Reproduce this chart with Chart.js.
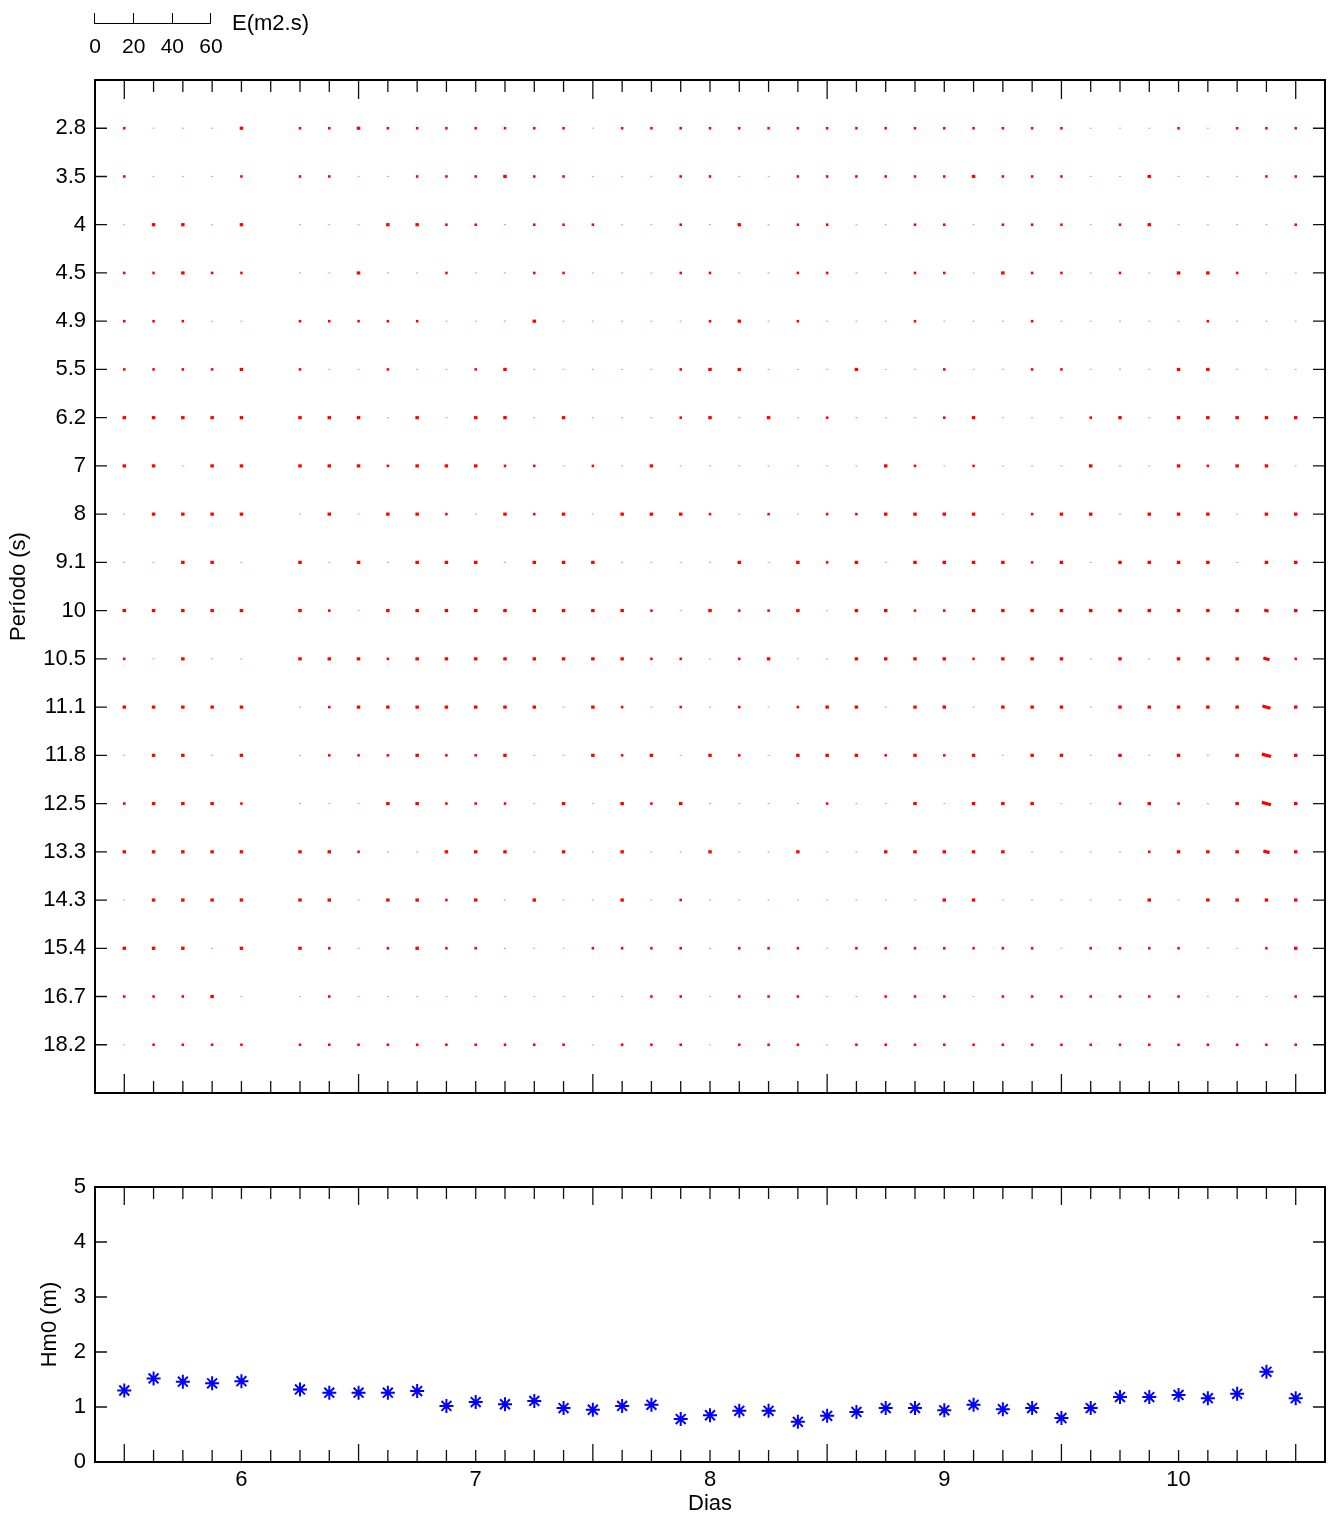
<!DOCTYPE html>
<html lang="pt">
<head>
<meta charset="utf-8">
<title>Espectro e Hm0</title>
<script src="https://cdn.jsdelivr.net/npm/chart.js@4.4.1/dist/chart.umd.min.js"></script>
<style>
  body { margin: 0; background: #fff; }
  #pagina { position: relative; width: 1338px; height: 1517px; font-family: "Liberation Sans", Arial, sans-serif; color: #000; }
  #painelEspectro { position: absolute; left: 0; top: 0; }
  #painelHm0 { position: absolute; left: 0; top: 1140px; }
  #legenda { position: absolute; left: 0; top: 0; width: 400px; height: 60px; }
  #legenda div, #legenda span { position: absolute; }
</style>
</head>
<body>
<div id="pagina">
  <canvas id="painelEspectro" width="1338" height="1130"></canvas>
  <canvas id="painelHm0" width="1338" height="377"></canvas>
  <div id="legenda"></div>
</div>
<script>
// tempos (dias) - um registo a cada 3 horas, falta o de 6.125
const tempos = [5.5, 5.625, 5.75, 5.875, 6, 6.125, 6.25, 6.375, 6.5, 6.625, 6.75, 6.875, 7, 7.125,
  7.25, 7.375, 7.5, 7.625, 7.75, 7.875, 8, 8.125, 8.25, 8.375, 8.5, 8.625, 8.75, 8.875, 9, 9.125,
  9.25, 9.375, 9.5, 9.625, 9.75, 9.875, 10, 10.125, 10.25, 10.375, 10.5];

// periodos (s) - linhas do painel de cima
const periodos = [2.8, 3.5, 4, 4.5, 4.9, 5.5, 6.2, 7, 8, 9.1, 10, 10.5, 11.1, 11.8, 12.5, 13.3, 14.3, 15.4, 16.7, 18.2];

// energia E(m2.s) por periodo (linha) e tempo (coluna)
const energia = [
  [1, .3, .3, .3, 1.5, null, 1, 1, 1.5, 1, 1, 1, 1, 1, 1, 1, .3, 1, 1, 1, 1, 1, 1, 1, 1, 1, 1, 1, 1, 1, 1, 1, 1, .3, .3, .3, 1, .3, 1, 1, 1],
  [1, .3, .3, .3, 1, null, 1, 1, .3, .3, 1, 1, 1, 1.5, 1, 1, .3, .3, .3, 1, 1, .3, .3, 1, 1, 1, 1, 1, 1, 1.5, 1, 1, 1, .3, .3, 1.5, .3, .3, .3, 1, 1],
  [.3, 1.5, 1.5, .3, 1.5, null, .3, .3, .3, 1.5, 1.5, 1, 1, .3, 1, 1, 1, .3, .3, 1, .3, 1.5, .3, 1, 1, .3, .3, 1, 1, .3, 1, 1, 1, .3, 1, 1.5, .3, .3, .3, .3, 1],
  [1, 1, 1.5, 1, 1, null, .3, .3, 1.5, .3, .3, 1, .3, .3, 1, 1, .3, .3, .3, 1, 1, .3, .3, 1, 1, .3, .3, 1, 1, .3, 1.5, 1, 1, .3, 1, .3, 1.5, 1.5, 1, .3, .3],
  [1, 1, 1, .3, .3, null, 1, 1, 1, 1, 1, .3, .3, .3, 1.5, .3, .3, .3, .3, .3, 1, 1.5, .3, 1, .3, .3, .3, 1, .3, .3, .3, 1, .3, .3, .3, .3, .3, 1, .3, .3, .3],
  [1, 1, 1, 1, 1.5, null, 1, .3, .3, 1, .3, .3, 1, 1.5, .3, .3, .3, .3, .3, 1, 1.5, 1.5, .3, .3, .3, 1.5, .3, .3, 1, .3, .3, 1, 1, .3, .3, .3, 1.5, 1.5, .3, .3, .3],
  [1.5, 1.5, 1.5, 1.5, 1.5, null, 1.5, 1.5, 1.5, .3, 1.5, .3, 1.5, 1.5, .3, 1.5, .3, .3, .3, 1, 1.5, .3, 1.5, .3, 1, .3, .3, .3, 1, 1.5, .3, .3, .3, 1, 1.5, .3, 1.5, 1.5, 1.5, 1.5, 1.5],
  [1.5, 1.5, .3, 1.5, 1.5, null, 1.5, 1.5, 1.5, 1, 1.5, 1.5, 1.5, 1, 1, .3, 1, .3, 1.5, .3, .3, .3, .3, .3, .3, .3, 1.5, 1, .3, 1, .3, .3, .3, 1.5, .3, .3, 1.5, 1, 1.5, 1.5, .3],
  [.3, 1.5, 1.5, 1.5, 1.5, null, .3, 1.5, .3, 1.5, 1.5, 1, .3, 1.5, 1, 1.5, .3, 1.5, 1.5, 1.5, 1, .3, 1, .3, 1, 1, 1.5, 1.5, 1.5, 1.5, .3, 1, 1.5, 1.5, .3, 1.5, 1.5, 1.5, .3, 1.5, 1.5],
  [.3, .3, 1.5, 1.5, .3, null, 1.5, .3, 1.5, .3, 1.5, 1.5, 1.5, .3, 1.5, 1.5, 1.5, .3, .3, .3, .3, 1.5, .3, 1.5, 1, 1.5, .3, 1.5, 1.5, 1.5, 1.5, 1, 1.5, .3, 1.5, 1.5, 1.5, 1.5, .3, 1.5, 1.5],
  [1.5, 1.5, 1.5, 1.5, 1.5, null, 1.5, 1, .3, 1.5, 1.5, 1.5, 1.5, 1.5, 1.5, 1.5, 1.5, 1.5, 1, .3, 1.5, 1, 1, 1.5, .3, 1.5, 1.5, 1, 1, 1.5, 1.5, 1.5, 1.5, 1.5, 1.5, 1.5, 1.5, 1.5, 1.5, 2, 1.5],
  [1, .3, 1.5, .3, .3, null, 1.5, 1.5, 1.5, 1, 1.5, 1.5, 1.5, 1.5, 1.5, 1.5, 1.5, 1.5, 1, 1, .3, 1, 1.5, .3, .3, 1.5, 1.5, 1.5, 1.5, 1, 1.5, 1.5, 1.5, .3, 1.5, .3, 1.5, 1.5, 1.5, 3, 1],
  [1.5, 1.5, 1.5, 1.5, 1.5, null, .3, 1, 1.5, 1.5, 1.5, 1.5, 1.5, 1.5, 1.5, .3, 1.5, 1, .3, 1, .3, 1, .3, 1, 1.5, 1.5, .3, 1.5, 1.5, .3, 1.5, 1.5, 1.5, .3, 1.5, 1.5, 1.5, 1.5, 1.5, 4, 1.5],
  [.3, 1.5, 1.5, .3, 1.5, null, .3, 1, 1, 1, 1.5, 1, 1, 1.5, .3, .3, 1.5, 1, 1.5, .3, 1.5, 1, .3, 1.5, 1.5, 1.5, 1, 1.5, 1, 1.5, .3, 1.5, 1.5, .3, 1.5, .3, 1.5, .3, 1.5, 4.6, 1.5],
  [1, 1.5, 1.5, 1.5, 1, null, .3, .3, .3, 1.5, 1.5, 1, 1, 1, .3, 1.5, .3, 1.5, 1, 1.5, .3, .3, .3, .3, 1, .3, .3, 1.5, .3, 1.5, 1.5, 1.5, .3, .3, 1, 1.5, 1, .3, 1.5, 4.6, 1.5],
  [1.5, 1.5, 1.5, 1.5, 1.5, null, 1.5, 1.5, 1, .3, .3, 1.5, 1.5, 1.5, .3, 1.5, .3, 1.5, .3, .3, 1.5, .3, .3, 1.5, .3, .3, 1.5, 1.5, 1.5, 1.5, 1.5, .3, .3, .3, .3, 1, 1.5, 1.5, 1.5, 3, 1.5],
  [.3, 1.5, 1.5, 1.5, 1.5, null, 1.5, 1.5, .3, 1.5, 1.5, 1, 1.5, .3, 1.5, .3, .3, 1.5, .3, 1, .3, .3, .3, .3, .3, .3, .3, .3, 1.5, 1.5, .3, .3, .3, .3, .3, 1.5, .3, 1.5, 1.5, 1.5, 1.5],
  [1.5, 1.5, 1.5, .3, 1.5, null, 1.5, 1, .3, 1, 1.5, 1, 1, .3, .3, .3, 1, 1, 1, 1, .3, 1, 1, 1, .3, 1, 1, 1, 1, 1, 1, 1, .3, 1, 1, 1, 1, .3, .3, 1, 1.5],
  [1, 1, 1, 1.5, .3, null, .3, 1, .3, .3, .3, .3, .3, .3, .3, .3, .3, .3, 1, 1, .3, 1, 1, 1, .3, .3, 1, 1, 1, .3, 1, 1, 1, 1, 1, 1, 1, .3, .3, .3, 1],
  [.3, 1, 1, 1, 1, null, 1, 1, 1, 1, 1, 1, 1, 1, 1, 1, .3, 1, 1, 1, .3, 1, 1, 1, .3, 1, 1, 1, 1, 1, 1, 1, 1, 1, 1, 1, 1, 1, 1, 1, 1]
];

// altura significativa Hm0 (m)
const hm0 = [1.30, 1.52, 1.46, 1.43, 1.47, null, 1.32, 1.26, 1.26, 1.26, 1.29, 1.02, 1.09, 1.05, 1.11,
  0.98, 0.95, 1.02, 1.04, 0.78, 0.85, 0.93, 0.93, 0.73, 0.84, 0.91, 0.98, 0.98, 0.94, 1.04, 0.96,
  0.98, 0.80, 0.98, 1.18, 1.18, 1.22, 1.16, 1.24, 1.64, 1.16];

const marcasLongas = [5.5, 6.5, 7.5, 8.5, 9.5, 10.5];
const escalaLegenda = [0, 20, 40, 60];
const pxPorUnidade = 116 / 60; // comprimento da barra de escala

Chart.defaults.font.family = '"Liberation Sans", Arial, sans-serif';
Chart.defaults.font.size = 22;
Chart.defaults.color = '#000';

// --- barra de escala E(m2.s) ---
const legenda = document.getElementById('legenda');
const x0 = 95;
const barra = document.createElement('div');
barra.style.cssText = `left:${x0}px;top:23px;width:${60 * pxPorUnidade}px;border-top:1.3px solid #000;`;
legenda.appendChild(barra);
escalaLegenda.forEach(v => {
  const px = x0 + v * pxPorUnidade;
  const traco = document.createElement('div');
  traco.style.cssText = `left:${px - 0.6}px;top:13px;height:11px;border-left:1.3px solid #000;`;
  legenda.appendChild(traco);
  const rot = document.createElement('span');
  rot.textContent = v;
  rot.style.cssText = `left:${px - 30}px;width:60px;top:35px;text-align:center;font-size:21px;line-height:1;`;
  legenda.appendChild(rot);
});
const unidade = document.createElement('span');
unidade.textContent = 'E(m2.s)';
unidade.style.cssText = 'left:232px;top:12px;font-size:22px;line-height:1;';
legenda.appendChild(unidade);

// --- moldura e marcas para dentro (estilo matlab) ---
const molduraPlugin = {
    id: 'moldura',
    afterDatasetsDraw(chart, args, opts) {
        const { ctx, chartArea: a, scales } = chart;
        ctx.save();
        ctx.strokeStyle = '#111';
        ctx.lineWidth = 1.3;
        ctx.beginPath();
        scales.x.ticks.forEach(t => {
            const px = scales.x.getPixelForValue(t.value);
            const len = marcasLongas.includes(t.value) ? opts.longo : opts.curto;
            ctx.moveTo(px, a.bottom); ctx.lineTo(px, a.bottom - len);
            ctx.moveTo(px, a.top); ctx.lineTo(px, a.top + len);
        });
        scales.y.ticks.forEach(t => {
            const py = scales.y.getPixelForValue(t.value);
            ctx.moveTo(a.left, py); ctx.lineTo(a.left + opts.curto, py);
            ctx.moveTo(a.right, py); ctx.lineTo(a.right - opts.curto, py);
        });
        ctx.stroke();
        ctx.strokeStyle = '#000';
        ctx.lineWidth = 2;
        ctx.strokeRect(a.left, a.top, a.right - a.left, a.bottom - a.top);
        ctx.restore();
    }
};

// --- pontos ---
const pontosEspectro = [];
energia.forEach((linha, k) => {
    linha.forEach((e, i) => {
        if (e === null) return;
        pontosEspectro.push({ x: tempos[i], y: k + 1, e: e });
    });
});
const pontosHm0 = tempos.map((t, i) => ({ x: t, y: hm0[i] })).filter(p => p.y !== null);

const eixoTempo = {
    type: 'linear', min: 5.375, max: 10.625,
    afterBuildTicks: s => { s.ticks = tempos.map(v => ({ value: v })); },
    grid: { display: false, drawTicks: false },
    border: { display: false }
};

// painel de cima - espectro
new Chart(document.getElementById('painelEspectro'), {
    type: 'scatter',
    data: {
        datasets: [{
            data: pontosEspectro,
            pointStyle: 'line',
            pointRadius: c => c.raw.e < 0.5 ? 1 : c.raw.e * pxPorUnidade / 2 + 0.3,
            pointBorderWidth: c => c.raw.e < 0.5 ? 1.2 : (c.raw.e < 1.2 ? 2.6 : 3.2),
            pointBorderColor: c => c.raw.e < 0.5 ? 'rgba(255,0,0,0.4)' : '#ff0000',
            pointBackgroundColor: '#ff0000',
            pointRotation: c => c.raw.e >= 2 ? 15 : 0
        }]
    },
    options: {
        responsive: false,
        animation: false,
        events: [],
        layout: { padding: { top: 80, right: 13, bottom: 37, left: 0 } },
        plugins: { legend: { display: false }, tooltip: { enabled: false }, moldura: { curto: 12, longo: 19 } },
        scales: {
            x: Object.assign({}, eixoTempo, {
                afterFit: s => { s.height = 0; },
                ticks: { display: false }
            }),
            y: {
                type: 'linear', min: 0, max: 21, reverse: true,
                afterBuildTicks: s => { s.ticks = periodos.map((p, k) => ({ value: k + 1 })); },
                afterFit: s => { s.width = 95; },
                ticks: { autoSkip: false, padding: 9, callback: v => String(periodos[v - 1]) },
                grid: { display: false, drawTicks: false },
                border: { display: false },
                title: { display: true, text: 'Período (s)', padding: { top: 6, bottom: 0 } }
            }
        }
    },
    plugins: [molduraPlugin]
});

// painel de baixo - Hm0
new Chart(document.getElementById('painelHm0'), {
    type: 'scatter',
    data: {
        datasets: [{
            data: pontosHm0,
            pointStyle: 'star',
            pointRadius: 7,
            pointBorderWidth: 2,
            pointBorderColor: '#0000ff',
            pointBackgroundColor: '#0000ff'
        }]
    },
    options: {
        responsive: false,
        animation: false,
        events: [],
        layout: { padding: { top: 47, right: 13, bottom: 0, left: 0 } },
        plugins: { legend: { display: false }, tooltip: { enabled: false }, moldura: { curto: 12, longo: 18 } },
        scales: {
            x: Object.assign({}, eixoTempo, {
                afterFit: s => { s.height = 55; },
                ticks: { autoSkip: false, maxRotation: 0, padding: 5, callback: v => Number.isInteger(v) ? String(v) : '' },
                title: { display: true, text: 'Dias', padding: { top: 0, bottom: 0 } }
            }),
            y: {
                type: 'linear', min: 0, max: 5,
                afterFit: s => { s.width = 95; },
                ticks: { stepSize: 1, padding: 9 },
                grid: { display: false, drawTicks: false },
                border: { display: false },
                title: { display: true, text: 'Hm0 (m)', padding: { top: 37, bottom: 0 } }
            }
        }
    },
    plugins: [molduraPlugin]
});
</script>
</body>
</html>
